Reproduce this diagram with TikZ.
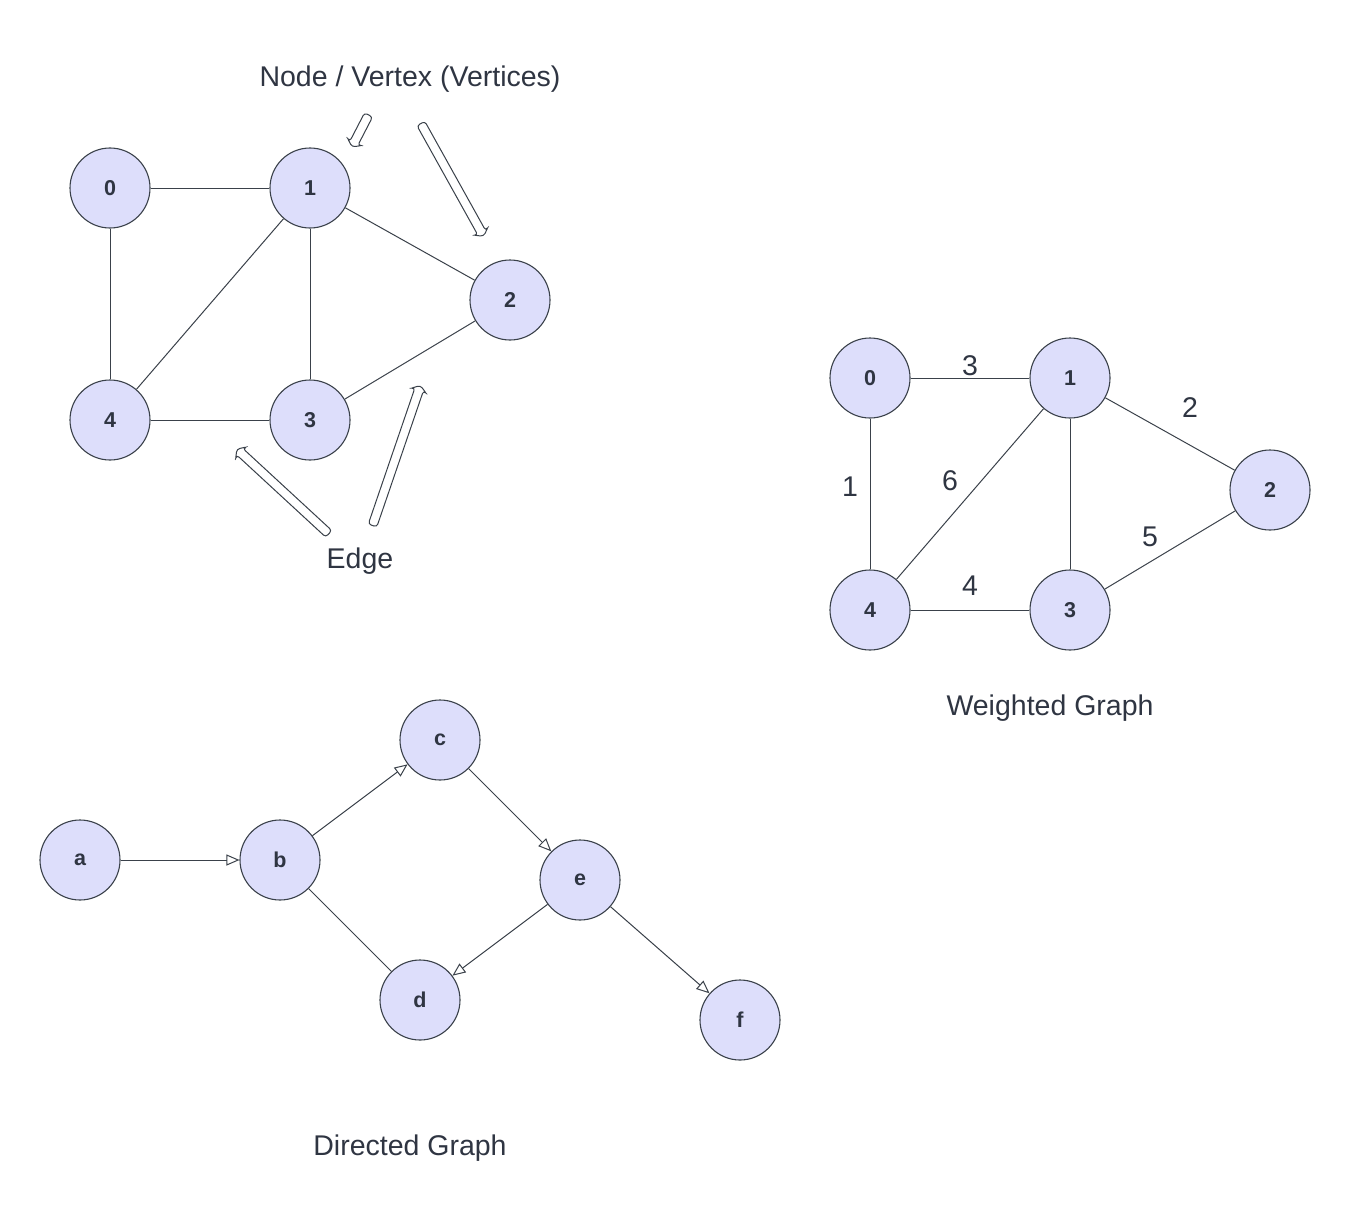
\documentclass[tikz,border=0pt]{standalone}
\usepackage{fontspec}
\setmainfont{Liberation Sans}
\usetikzlibrary{shapes.arrows,arrows.meta}
\definecolor{nodefill}{RGB}{221,222,251}
\definecolor{strokec}{RGB}{58,65,74}
\definecolor{textc}{RGB}{47,53,66}
\tikzset{
  vtx/.style={circle, draw=strokec, fill=nodefill, line width=1.1pt, minimum size=80pt, inner sep=0pt, font=\bfseries\fontsize{21.5}{24}\selectfont, text=textc},
  edge/.style={draw=strokec, line width=1pt},
  dedge/.style={edge, -{Triangle[open, length=13pt, width=11pt, line width=1pt]}},
  lbl/.style={font=\fontsize{28.5}{32}\selectfont, text=textc},
  blockarr/.style={single arrow, draw=strokec, fill=white, line width=1pt, inner sep=4pt, minimum width=16pt, single arrow head extend=4pt, single arrow head indent=2pt, single arrow tip angle=110, rounded corners=3pt, anchor=center}
}
\begin{document}
\begin{tikzpicture}[x=1pt, y=-1pt]
\useasboundingbox (0,0) rectangle (1370,1220);
% --- basic graph ---
\node[vtx] (g0) at (110,188) {0};
\node[vtx] (g1) at (310,188) {1};
\node[vtx] (g2) at (510,300) {2};
\node[vtx] (g3) at (310,420) {3};
\node[vtx] (g4) at (110,420) {4};
\draw[edge] (g0) -- (g1);
\draw[edge] (g0) -- (g4);
\draw[edge] (g1) -- (g4);
\draw[edge] (g1) -- (g3);
\draw[edge] (g1) -- (g2);
\draw[edge] (g2) -- (g3);
\draw[edge] (g4) -- (g3);
\node[lbl] (tnode) at (410,79) {Node / Vertex (Vertices)};
\node[lbl] (tedge) at (360,561) {Edge};
\node[blockarr, minimum height=36pt, rotate=242.7] (arA) at (361,129.5) {};
\node[blockarr, minimum height=129pt, rotate=299.1] (arB) at (451.5,178.5) {};
\node[blockarr, minimum height=125pt, rotate=137.3] (arC) at (284,492.5) {};
\node[blockarr, minimum height=148pt, rotate=71.1] (arD) at (396,457) {};
% --- weighted graph ---
\node[vtx] (w0) at (870,378) {0};
\node[vtx] (w1) at (1070,378) {1};
\node[vtx] (w2) at (1270,490) {2};
\node[vtx] (w3) at (1070,610) {3};
\node[vtx] (w4) at (870,610) {4};
\draw[edge] (w0) -- (w1);
\draw[edge] (w0) -- (w4);
\draw[edge] (w1) -- (w4);
\draw[edge] (w1) -- (w3);
\draw[edge] (w1) -- (w2);
\draw[edge] (w3) -- (w2);
\draw[edge] (w4) -- (w3);
\node[lbl] (l01) at (970,366) {3};
\node[lbl] (l04) at (850,487) {1};
\node[lbl] (l14) at (950,481) {6};
\node[lbl] (l12) at (1190,408) {2};
\node[lbl] (l32) at (1150,537) {5};
\node[lbl] (l43) at (970,586) {4};
\node[lbl] (tweighted) at (1050,708) {Weighted Graph};
% --- directed graph ---
\node[vtx] (da) at (80,860) {a};
\node[vtx] (db) at (280,860) {b};
\node[vtx] (dc) at (440,740) {c};
\node[vtx] (de) at (580,880) {e};
\node[vtx] (dd) at (420,1000) {d};
\node[vtx] (df) at (740,1020) {f};
\draw[dedge] (da) -- (db);
\draw[dedge] (db) -- (dc);
\draw[dedge] (dc) -- (de);
\draw[edge] (db) -- (dd);
\draw[dedge] (de) -- (dd);
\draw[dedge] (de) -- (df);
\node[lbl] (tdirected) at (410,1148) {Directed Graph};
\end{tikzpicture}
\end{document}
